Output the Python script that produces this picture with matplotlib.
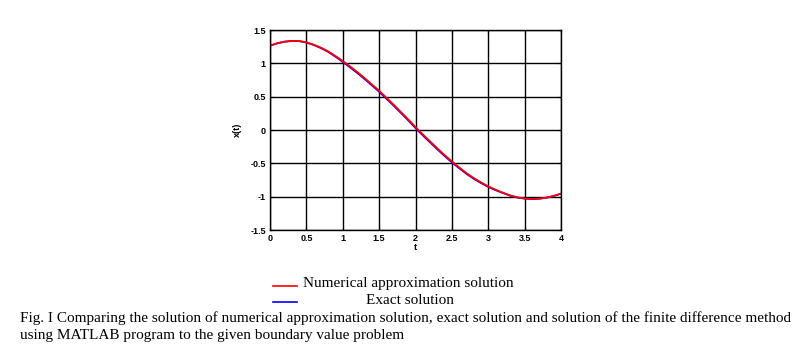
import matplotlib
matplotlib.use("Agg")
import matplotlib.pyplot as plt
from matplotlib.lines import Line2D

t = [0.0, 0.1, 0.2, 0.3, 0.4, 0.5, 0.6, 0.7, 0.8, 0.9, 1.0, 1.1, 1.2, 1.3, 1.4, 1.5, 1.6, 1.7, 1.8, 1.9, 2.0,
     2.1, 2.2, 2.3, 2.4, 2.5, 2.6, 2.7, 2.8, 2.9, 3.0, 3.1, 3.2, 3.3, 3.4, 3.5, 3.6, 3.7, 3.8, 3.9, 4.0]
numerical = [1.265, 1.30, 1.325, 1.337, 1.335, 1.315, 1.28, 1.235, 1.18, 1.11, 1.035, 0.955, 0.87, 0.78, 0.685,
             0.59, 0.485, 0.38, 0.27, 0.16, 0.045, -0.065, -0.17, -0.275, -0.375, -0.47, -0.56, -0.645, -0.72,
             -0.785, -0.845, -0.895, -0.94, -0.98, -1.01, -1.027, -1.035, -1.03, -1.015, -0.99, -0.955]
exact = [1.265, 1.30, 1.325, 1.336, 1.333, 1.312, 1.276, 1.229, 1.172, 1.10, 1.022, 0.94, 0.855, 0.765, 0.67,
         0.574, 0.47, 0.365, 0.255, 0.145, 0.03, -0.08, -0.185, -0.29, -0.39, -0.485, -0.573, -0.657, -0.731,
         -0.795, -0.853, -0.902, -0.945, -0.984, -1.013, -1.029, -1.036, -1.031, -1.015, -0.99, -0.955]
xticks = [0, 0.5, 1, 1.5, 2, 2.5, 3, 3.5, 4]
yticks = [-1.5, -1, -0.5, 0, 0.5, 1, 1.5]

fig = plt.figure(figsize=(8.09, 3.54), dpi=100)
ax = fig.add_axes([270/809, 1-230/354, 291/809, 200/354])
ax.plot(t, exact, color='#0000ff', lw=1.3)
ax.plot(t, numerical, color='#ff0000', lw=1.3)
ax.set_xlim(0, 4)
ax.set_ylim(-1.5, 1.5)
ax.set_xticks(xticks)
ax.set_yticks(yticks)
ax.set_xticklabels([f"{v:g}" for v in xticks])
ax.set_yticklabels([f"{v:g}" for v in yticks])
ax.grid(True, color='black', lw=1.0, ls='-')
ax.tick_params(direction='in', top=True, right=True, labelsize=6.5, length=3, pad=3)
for lab in ax.get_xticklabels() + ax.get_yticklabels():
    lab.set_family('Liberation Sans')
    lab.set_fontweight('bold')
for s in ax.spines.values():
    s.set_linewidth(1.0)
ax.set_xlabel('t', fontsize=6.5, labelpad=0, family='Liberation Sans', fontweight='bold')
ax.set_ylabel('x(t)', fontsize=6.5, labelpad=6, family='Liberation Sans', fontweight='bold')

serif = 'Liberation Serif'
fig.add_artist(Line2D([273/809, 297/809], [1-286/354, 1-286/354], color='#ff0000', lw=1.2))
fig.add_artist(Line2D([273/809, 297/809], [1-302/354, 1-302/354], color='#0000ff', lw=1.2))
fig.text(303/809, 1-284/354, 'Numerical approximation solution', family=serif, fontsize=11, va='center', ha='left')
fig.text(410/809, 1-300/354, 'Exact solution', family=serif, fontsize=11, va='center', ha='center')
fig.text(20/809, 1-318/354, 'Fig. I Comparing the solution of numerical approximation solution, exact solution and solution of the finite difference method',
         family=serif, fontsize=11, va='center', ha='left')
fig.text(20/809, 1-336/354, 'using MATLAB program to the given boundary value problem',
         family=serif, fontsize=11, va='center', ha='left')

fig.savefig('out.png', dpi=100)
